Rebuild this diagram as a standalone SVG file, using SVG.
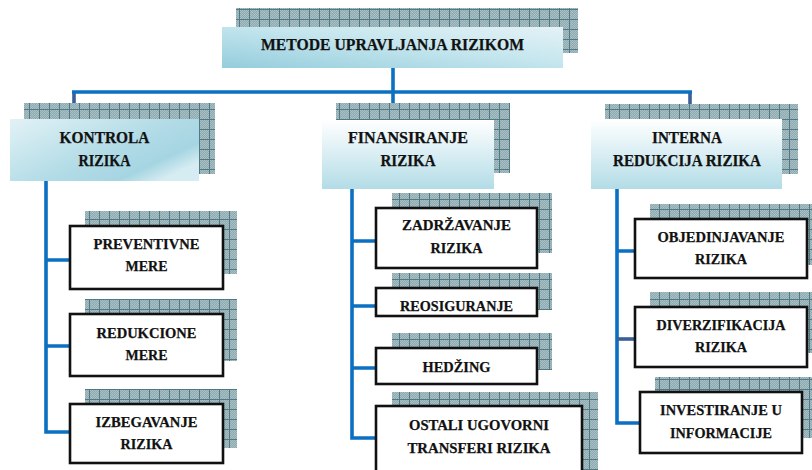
<svg xmlns="http://www.w3.org/2000/svg" width="812" height="470" viewBox="0 0 812 470">
  <defs>
    <!-- fine dither used inside the hatched shadow panels -->
    <pattern id="dots" width="2" height="2" patternUnits="userSpaceOnUse">
      <rect width="2" height="2" fill="#8eaab1"/>
      <rect width="1" height="1" fill="#a9bfc4"/>
      <rect x="1" y="1" width="1" height="1" fill="#a9bfc4"/>
    </pattern>
    <!-- grid of the shadow panels -->
    <pattern id="grid" width="10" height="10" patternUnits="userSpaceOnUse">
      <rect width="10" height="10" fill="url(#dots)"/>
      <path d="M9.5 0V10M0 9.5H10" stroke="#507985" stroke-width="1" fill="none"/>
    </pattern>
    <linearGradient id="gTitle" x1="0" y1="1" x2="1" y2="0">
      <stop offset="0" stop-color="#94cddc"/>
      <stop offset="0.55" stop-color="#c5e6ee"/>
      <stop offset="1" stop-color="#e4f2f6"/>
    </linearGradient>
    <linearGradient id="gLeft" x1="0" y1="0" x2="1" y2="0.7">
      <stop offset="0" stop-color="#e2f2f6"/>
      <stop offset="0.6" stop-color="#b1dbe6"/>
      <stop offset="0.85" stop-color="#a6d5e2"/>
      <stop offset="1" stop-color="#d5ecf2"/>
    </linearGradient>
    <linearGradient id="gDown" x1="0" y1="0" x2="0" y2="1">
      <stop offset="0" stop-color="#ffffff"/>
      <stop offset="1" stop-color="#b3dce7"/>
    </linearGradient>
    <style>
      .shadow { fill: url(#grid); }
      .box { fill: #ffffff; stroke: #111111; stroke-width: 2.6; }
      .t { font-family: "Liberation Serif", "Times New Roman", serif; font-weight: bold; fill: #111111; text-anchor: middle; stroke: #111111; stroke-width: 0.25; }
      .t1 { font-size: 17px; }
      .t2 { font-size: 16px; }
      .t3 { font-size: 15.5px; }
      .ln { fill: none; stroke: #0b70c2; stroke-width: 3.6; }
      .dk { fill: none; stroke: #3a5f96; stroke-width: 3.6; }
    </style>
  </defs>

  <rect width="812" height="470" fill="#ffffff"/>

  <!-- connectors -->
  <g id="connectors">
    <path class="dk" d="M74 92V121"/>
    <path class="dk" d="M690 92V121"/>
    <path class="ln" d="M393 66V122"/>
    <path class="ln" d="M72 92H692"/>
    <!-- KONTROLA RIZIKA branch -->
    <path class="ln" d="M46 180V432H70M46 260H70M46 346H70"/>
    <!-- FINANSIRANJE RIZIKA branch -->
    <path class="ln" d="M352 188V438H376M352 241H376M352 306H376M352 368H376"/>
    <!-- INTERNA REDUKCIJA RIZIKA branch -->
    <path class="ln" d="M617 188V423H640M617 251H635"/>
    <path class="dk" d="M617 339H635"/>
  </g>

  <g id="title">
    <rect class="shadow" x="236" y="8" width="342" height="45"/>
    <rect x="222" y="27" width="341" height="41" fill="url(#gTitle)"/>
    <text class="t t1" x="392.5" y="50" textLength="263" lengthAdjust="spacingAndGlyphs">METODE UPRAVLJANJA RIZIKOM</text>
  </g>

  <g id="kontrola">
    <rect class="shadow" x="24" y="103" width="191" height="71"/>
    <rect x="10" y="119" width="189" height="62" fill="url(#gLeft)"/>
    <text class="t t2" x="104.5" y="143" textLength="90" lengthAdjust="spacingAndGlyphs">KONTROLA</text>
    <text class="t t2" x="104.5" y="166" textLength="52" lengthAdjust="spacingAndGlyphs">RIZIKA</text>
  </g>

  <g id="finansiranje">
    <rect class="shadow" x="336" y="103" width="174" height="70"/>
    <rect x="322" y="120" width="172" height="69" fill="url(#gDown)"/>
    <text class="t t2" x="408" y="143" textLength="120" lengthAdjust="spacingAndGlyphs">FINANSIRANJE</text>
    <text class="t t2" x="408" y="166" textLength="55" lengthAdjust="spacingAndGlyphs">RIZIKA</text>
  </g>

  <g id="interna">
    <rect class="shadow" x="605" y="104" width="193" height="70"/>
    <rect x="591" y="119" width="191" height="70" fill="url(#gDown)"/>
    <text class="t t2" x="687" y="143" textLength="70" lengthAdjust="spacingAndGlyphs">INTERNA</text>
    <text class="t t2" x="687" y="166" textLength="148" lengthAdjust="spacingAndGlyphs">REDUKCIJA RIZIKA</text>
  </g>

  <g id="preventivne">
    <rect class="shadow" x="85" y="211" width="152" height="63"/>
    <rect class="box" x="70" y="226" width="153" height="63"/>
    <text class="t t3" x="146.5" y="249" textLength="106" lengthAdjust="spacingAndGlyphs">PREVENTIVNE</text>
    <text class="t t3" x="146.5" y="271" textLength="42" lengthAdjust="spacingAndGlyphs">MERE</text>
  </g>

  <g id="redukcione">
    <rect class="shadow" x="85" y="299" width="152" height="62"/>
    <rect class="box" x="70" y="314" width="153" height="62"/>
    <text class="t t3" x="146.5" y="338" textLength="100" lengthAdjust="spacingAndGlyphs">REDUKCIONE</text>
    <text class="t t3" x="146.5" y="360" textLength="42" lengthAdjust="spacingAndGlyphs">MERE</text>
  </g>

  <g id="izbegavanje">
    <rect class="shadow" x="85" y="389" width="152" height="59"/>
    <rect class="box" x="70" y="404" width="153" height="59"/>
    <text class="t t3" x="146.5" y="427" textLength="102" lengthAdjust="spacingAndGlyphs">IZBEGAVANJE</text>
    <text class="t t3" x="146.5" y="449" textLength="52" lengthAdjust="spacingAndGlyphs">RIZIKA</text>
  </g>

  <g id="zadrzavanje">
    <rect class="shadow" x="392" y="193" width="160" height="60"/>
    <rect class="box" x="376" y="208" width="161" height="60"/>
    <text class="t t3" x="456.5" y="230" textLength="109" lengthAdjust="spacingAndGlyphs">ZADRŽAVANJE</text>
    <text class="t t3" x="456.5" y="253" textLength="52" lengthAdjust="spacingAndGlyphs">RIZIKA</text>
  </g>

  <g id="reosiguranje">
    <rect class="shadow" x="392" y="273" width="160" height="37"/>
    <rect class="box" x="376" y="288" width="161" height="28"/>
    <text class="t t3" x="456.5" y="311" textLength="113" lengthAdjust="spacingAndGlyphs">REOSIGURANJE</text>
  </g>

  <g id="hedzing">
    <rect class="shadow" x="392" y="333" width="160" height="37"/>
    <rect class="box" x="376" y="348" width="161" height="36"/>
    <text class="t t3" x="456.5" y="372" textLength="68" lengthAdjust="spacingAndGlyphs">HEDŽING</text>
  </g>

  <g id="ostali">
    <rect class="shadow" x="392" y="392" width="206" height="80"/>
    <rect class="box" x="376" y="406" width="206" height="70"/>
    <text class="t t3" x="479" y="430" textLength="140" lengthAdjust="spacingAndGlyphs">OSTALI UGOVORNI</text>
    <text class="t t3" x="479" y="453" textLength="143" lengthAdjust="spacingAndGlyphs">TRANSFERI RIZIKA</text>
  </g>

  <g id="objedinjavanje">
    <rect class="shadow" x="650" y="204" width="170" height="61"/>
    <rect class="box" x="635" y="219" width="172" height="59"/>
    <text class="t t3" x="721" y="242" textLength="127" lengthAdjust="spacingAndGlyphs">OBJEDINJAVANJE</text>
    <text class="t t3" x="721" y="264" textLength="52" lengthAdjust="spacingAndGlyphs">RIZIKA</text>
  </g>

  <g id="diverzifikacija">
    <rect class="shadow" x="650" y="292" width="170" height="61"/>
    <rect class="box" x="635" y="307" width="172" height="60"/>
    <text class="t t3" x="721" y="330" textLength="129" lengthAdjust="spacingAndGlyphs">DIVERZIFIKACIJA</text>
    <text class="t t3" x="721" y="352" textLength="52" lengthAdjust="spacingAndGlyphs">RIZIKA</text>
  </g>

  <g id="investiranje">
    <rect class="shadow" x="655" y="377" width="165" height="61"/>
    <rect class="box" x="640" y="392" width="162" height="61"/>
    <text class="t t3" x="721" y="415" textLength="122" lengthAdjust="spacingAndGlyphs">INVESTIRANJE U</text>
    <text class="t t3" x="721" y="438" textLength="102" lengthAdjust="spacingAndGlyphs">INFORMACIJE</text>
  </g>
</svg>
